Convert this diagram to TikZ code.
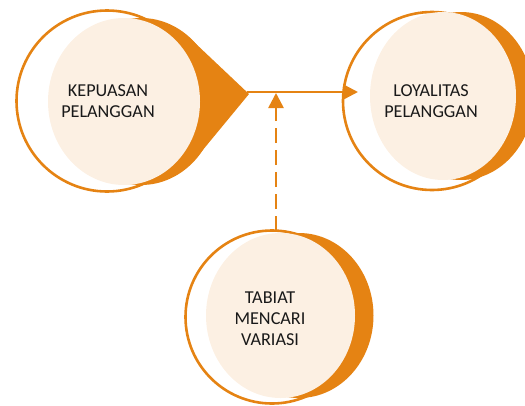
\documentclass[tikz,border=0pt]{standalone}
\usepackage{fontspec}
\setmainfont{Carlito}
\usetikzlibrary{arrows.meta}
\definecolor{acc}{RGB}{229,131,19}
\definecolor{cream}{RGB}{252,240,227}
\definecolor{ink}{RGB}{25,25,25}

\begin{document}
\begin{tikzpicture}[x=1pt,y=-1pt,
  ring/.style={draw=acc,line width=2.6pt},
  shadefill/.style={fill=acc},
  face/.style={fill=cream},
  lbl/.style={text=ink,align=center,inner sep=0pt,font=\fontsize{18.2}{20.8}\selectfont},
  link/.style={draw=acc,line width=2.6pt,-{Triangle[length=15pt,width=15pt]}},
  dashlink/.style={link,dash pattern=on 15pt off 7pt}]
\useasboundingbox (0,0) rectangle (525,405);
\clip (0,0) rectangle (525,405);

% left: satisfaction, with its pointer
\draw[ring] (107,101) circle [radius=90.5];
\fill[shadefill] (141,101.5) ellipse [x radius=76, y radius=83.5];
\fill[shadefill] (249,94) -- (189.5,37.8) -- (141,101.5) -- (196.2,158) -- cycle;
\fill[face] (124,101.5) ellipse [x radius=76, y radius=83.5];
\node[lbl] (kp) at (108,101.5) {KEPUASAN\\PELANGGAN};

% right: loyalty
\draw[ring] (432,101) circle [radius=89];
\fill[shadefill] (461,96) ellipse [x radius=73, y radius=84];
\fill[face] (443,96) ellipse [x radius=73, y radius=84];
\node[lbl] (lp) at (431,101.5) {LOYALITAS\\PELANGGAN};

% bottom: variety seeking
\draw[ring] (272,317) circle [radius=86.5];
\fill[shadefill] (299,315.5) ellipse [x radius=74.5, y radius=82.5];
\fill[face] (280.5,315.5) ellipse [x radius=74.5, y radius=82.5];
\node[lbl] (tv) at (270,318.5) {TABIAT\\MENCARI\\VARIASI};

% connectors
\coordinate (tipL) at (247,92);
\coordinate (inR) at (358,92);
\coordinate (topB) at (276,231);
\coordinate (onLine) at (276,93);
\draw[link] (tipL) -- (inR);
\draw[dashlink] (topB) -- (onLine);
\end{tikzpicture}
\end{document}
